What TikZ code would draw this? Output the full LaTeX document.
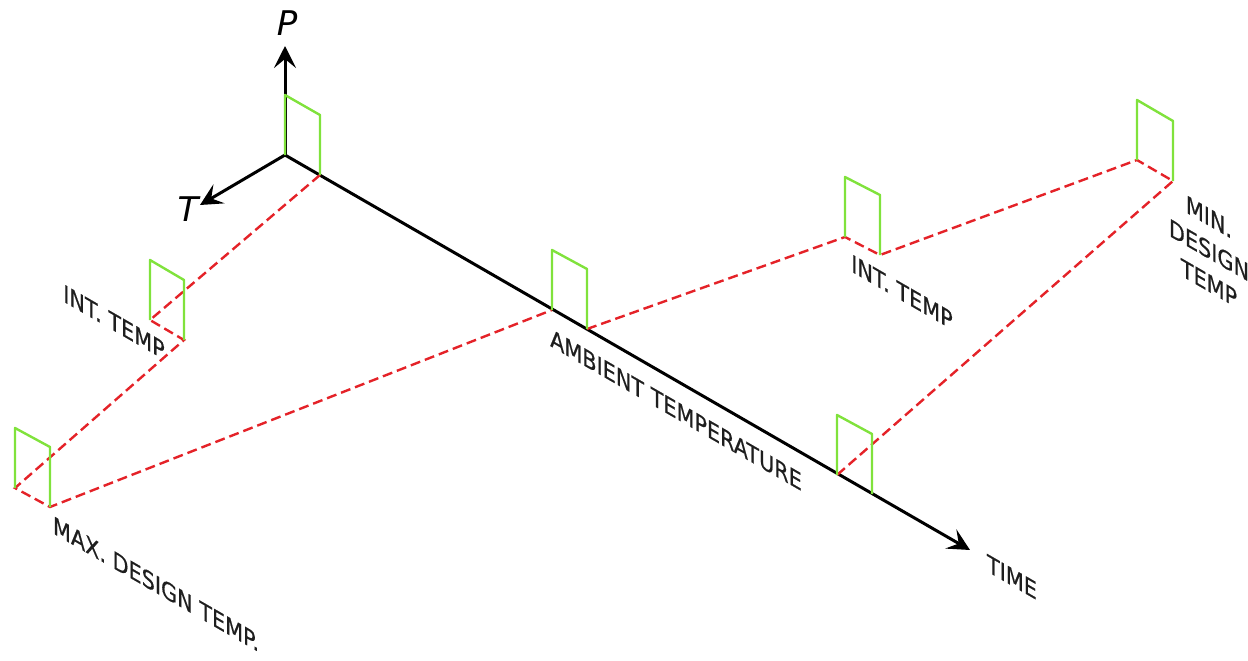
\documentclass[tikz,border=0pt]{standalone}
\usepackage{fontspec}
\setmainfont{DejaVu Sans}
\newfontfamily\isofont[FakeBold=0.6]{DejaVu Sans}
\usetikzlibrary{arrows.meta}
\definecolor{flaggreen}{RGB}{128,226,60}
\definecolor{pathred}{RGB}{228,34,40}
\definecolor{labelgray}{RGB}{30,30,30}
\tikzset{
 axisline/.style={black, line width=3pt},
 axisarrow/.style={axisline, -{Stealth[length=22pt,width=22pt,inset=9pt]}},
 flagline/.style={flaggreen, line width=2.4pt, line join=round},
 redpath/.style={pathred, line width=2.4pt, dash pattern=on 10pt off 5pt},
 isolabel/.style={text=labelgray, font=\isofont\fontsize{24}{33}\selectfont, cm={0.866,-0.5,0,1,(0,0)}, inner sep=0pt, align=center},
 axislabel/.style={font=\fontsize{34}{34}\selectfont\itshape, inner sep=0pt}
}
\newcommand\flagat[3]{%
 \coordinate (#1L) at (#2);
 \coordinate (#1R) at (#3);
}
\newcommand\drawflag[1]{%
 \draw[flagline] (#1L) -- ([yshift=60pt]#1L) -- ([yshift=60pt]#1R) -- (#1R);
}
\begin{document}
\begin{tikzpicture}[x=1pt,y=-1pt]
\useasboundingbox (0,0) rectangle (1248,661);
\coordinate (O) at (285,155);
\coordinate (Ptip) at (285,46);
\coordinate (Ttip) at (200,205);
\coordinate (Etip) at (970,550);
\flagat{F1}{285,155}{320,175}
\flagat{F2}{150,320}{184,340}
\flagat{F3}{15,488}{50,507}
\flagat{F4}{552,310}{587,329}
\flagat{F5}{845,237}{880,255}
\flagat{F6}{1137,160}{1173,181}
\flagat{F7}{837,475}{872,494}
\draw[axisarrow] (O) -- (Ptip);
\draw[axisarrow] (O) -- (Ttip);
\draw[axisarrow] (O) -- (Etip);
\draw[redpath] (F1R) -- (F2L) -- (F2R) -- (F3L) -- (F3R) -- (F4L);
\draw[redpath] (F4R) -- (F5L) -- (F5R) -- (F6L) -- (F6R) -- (F7L);
\drawflag{F1}
\drawflag{F2}
\drawflag{F3}
\drawflag{F4}
\drawflag{F5}
\drawflag{F6}
\drawflag{F7}
\node[axislabel] (P) at (287,23) {P};
\node[axislabel] (T) at (188,209) {T};
\node[isolabel] (intl) at (114,322) {INT. TEMP};
\node[isolabel] (max) at (156,584) {MAX. DESIGN TEMP.};
\node[isolabel] (amb) at (676,410) {AMBIENT TEMPERATURE};
\node[isolabel] (intr) at (902,292) {INT. TEMP};
\node[isolabel] (min) at (1209,250) {MIN.\\DESIGN\\TEMP};
\node[isolabel] (time) at (1012,577) {TIME};
\end{tikzpicture}
\end{document}
